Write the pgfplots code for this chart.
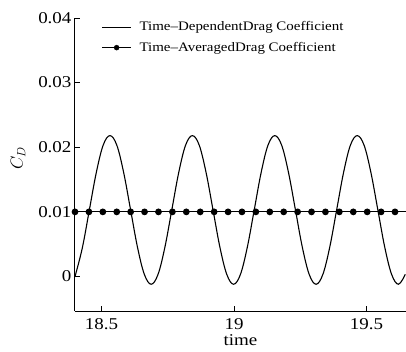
\documentclass[border=0pt]{standalone}
\usepackage{pgfplots}
\pgfplotsset{compat=1.18}
\usepackage{fontspec}
\setmainfont[FakeStretch=1.15]{Liberation Serif}
\begin{document}
\begin{tikzpicture}
\begin{axis}[
  scale only axis,
  width=331pt, height=293pt,
  xmin=18.4, xmax=19.649,
  ymin=-0.00534, ymax=0.04,
  axis x line*=bottom,
  axis y line*=left,
  axis line style={line width=1pt,-},
  tick align=inside,
  major tick length=5pt,
  tick style={line width=0.9pt,black},
  xtick={18.5,19,19.5},
  xticklabels={18.5,19,19.5},
  ytick={0,0.01,0.02,0.03,0.04},
  yticklabels={0,0.01,0.02,0.03,0.04},
  scaled y ticks=false,
  minor tick num=0,
  tick label style={font=\fontsize{16.5}{18}\selectfont},
  xticklabel style={yshift=-4pt},
  xlabel={time},
  xlabel style={font=\fontsize{16.5}{18}\selectfont, yshift=2pt},
  ylabel={$C_D$},
  ylabel style={font=\fontsize{18}{20}\selectfont, at={(axis description cs:-0.172,0.52)}, anchor=center},
  legend style={at={(axis description cs:0.08,0.995)}, anchor=north west, draw=none, fill=none,
    font=\fontsize{13}{14}\selectfont, row sep=6pt, column sep=6pt, inner sep=0pt},
  legend cell align=left,
  clip=false,
]
\addplot[black, line width=1.1pt, smooth, tension=0.6, forget plot] coordinates {
(18.4000,0.00005) (18.4024,0.00034) (18.4283,0.00455) (18.4542,0.0103) (18.4802,0.01605)
(18.5061,0.0203) (18.5320,0.0218) (18.5579,0.0203) (18.5838,0.01605) (18.6098,0.0103)
(18.6357,0.00455) (18.6616,0.00034) (18.6875,-0.0012) (18.7134,0.00034) (18.7393,0.00455)
(18.7653,0.0103) (18.7912,0.01605) (18.8171,0.0203) (18.8430,0.0218) (18.8689,0.0203)
(18.8948,0.01605) (18.9208,0.0103) (18.9467,0.00455) (18.9726,0.00034) (18.9985,-0.0012)
(19.0244,0.00034) (19.0503,0.00455) (19.0763,0.0103) (19.1022,0.01605) (19.1281,0.0203)
(19.1540,0.0218) (19.1799,0.0203) (19.2058,0.01605) (19.2318,0.0103) (19.2577,0.00455)
(19.2836,0.00034) (19.3095,-0.0012) (19.3354,0.00034) (19.3613,0.00455) (19.3873,0.0103)
(19.4132,0.01605) (19.4391,0.0203) (19.4650,0.0218) (19.4909,0.0203) (19.5168,0.01605)
(19.5428,0.0103) (19.5687,0.00455) (19.5946,0.00034) (19.6205,-0.0012) (19.6464,0.00034)
};
\addlegendimage{legend image code/.code={\draw[black, line width=0.9pt] (0pt,0pt) -- (29pt,0pt);}}
\addlegendentry{Time--DependentDrag Coefficient}
\addplot[black, line width=1.1pt, mark=*, mark size=2.8pt, mark indices={1,...,24}, forget plot] coordinates {
(18.4,0.01) (18.4525,0.01) (18.505,0.01) (18.5575,0.01) (18.61,0.01) (18.6625,0.01)
(18.715,0.01) (18.7675,0.01) (18.82,0.01) (18.8725,0.01) (18.925,0.01) (18.9775,0.01)
(19.03,0.01) (19.0825,0.01) (19.135,0.01) (19.1875,0.01) (19.24,0.01) (19.2925,0.01)
(19.345,0.01) (19.3975,0.01) (19.45,0.01) (19.5025,0.01) (19.555,0.01) (19.6075,0.01)
(19.649,0.01)
};
\addlegendimage{legend image code/.code={\draw[black, line width=0.9pt] (0pt,0pt) -- (29pt,0pt); \fill[black] (14.5pt,0pt) circle (2.5pt);}}
\addlegendentry{Time--AveragedDrag Coefficient}
\end{axis}
\pgfresetboundingbox
\path (-75pt,-40pt) rectangle (331pt,311pt);
\end{tikzpicture}
\end{document}
